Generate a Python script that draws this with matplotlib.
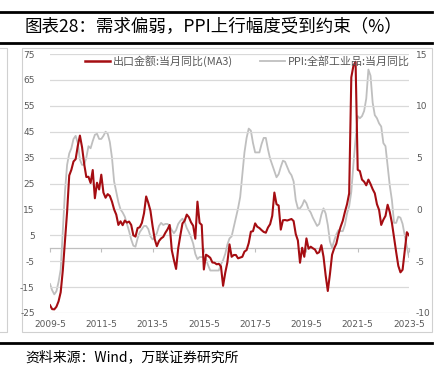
import matplotlib
matplotlib.use("Agg")
import matplotlib.pyplot as plt
from matplotlib.lines import Line2D
import matplotlib.transforms as mtransforms

plt.rcParams['font.family'] = ['Noto Sans CJK SC', 'DejaVu Sans']
plt.rcParams['axes.unicode_minus'] = False

# Monthly series, 2009-05 .. 2023-05
start_year, start_month = 2009, 5
export_ma3 = [
    -22.0, -23.5, -23.6, -22.6, -20.5, -17.0, -8.5, 2.5,                          # 2009 May-Dec
    14.0, 28.1, 30.3, 33.5, 34.4, 39.5, 43.5, 39.0, 32.5, 27.5, 27.6, 25.2,       # 2010
    30.2, 19.3, 25.3, 22.7, 28.4, 21.5, 19.5, 20.9, 20.2, 18.0, 15.0, 13.0,       # 2011
    9.0, 10.4, 8.9, 10.7, 9.9, 10.3, 9.0, 5.0, 4.5, 7.8, 8.1, 9.8,                # 2012
    13.5, 20.0, 17.5, 14.5, 8.6, 3.5, 0.8, 2.8, 3.8, 4.4, 6.0, 7.3,               # 2013
    9.0, -0.8, -4.6, -8.0, 0.0, 5.0, 9.6, 10.6, 13.0, 12.0, 10.0, 8.7,            # 2014
    3.7, 18.0, 9.8, 9.0, -8.2, -2.5, -3.0, -3.7, -5.5, -5.6, -6.2, -6.0,          # 2015
    -7.0, -14.5, -9.5, -5.5, 1.5, -3.3, -2.6, -2.6, -3.9, -3.6, -3.3, -1.3,       # 2016
    -0.7, 2.0, 6.4, 6.6, 9.6, 8.3, 7.8, 7.0, 6.3, 6.0, 8.0, 9.3,                  # 2017
    12.5, 21.5, 17.0, 16.5, 7.2, 10.8, 10.9, 10.7, 11.0, 11.3, 10.5, 5.5,         # 2018
    3.0, -5.6, 0.2, -3.3, 3.8, -0.2, 0.6, 0.0, -0.5, -2.0, -1.5, 1.2,             # 2019
    -3.3, -10.5, -16.5, -10.0, -2.5, 0.0, 1.8, 5.5, 8.3, 10.6, 14.0, 17.0,        # 2020
    21.2, 66.0, 70.5, 72.0, 30.3, 29.8, 26.5, 25.7, 24.3, 26.5, 24.8, 22.8,       # 2021
    21.2, 17.0, 14.8, 9.0, 11.0, 12.5, 16.8, 14.0, 9.8, 4.0, -1.5, -6.8,          # 2022
    -9.3, -8.3, -1.0, 6.2, 5.0,                                                   # 2023 Jan-May
]
ppi_yoy = [
    -7.2, -7.8, -8.2, -7.9, -7.0, -5.8, -2.1, 1.7,                                # 2009 May-Dec
    4.3, 5.4, 5.9, 6.8, 7.1, 6.4, 4.8, 4.3, 4.3, 5.0, 6.1, 5.9,                   # 2010
    6.6, 7.2, 7.3, 6.8, 6.8, 7.1, 7.5, 7.3, 6.5, 5.0, 2.7, 1.7,                   # 2011
    0.7, 0.0, -0.3, -0.7, -1.4, -2.1, -2.9, -3.5, -3.6, -2.8, -2.2, -1.9,         # 2012
    -1.6, -1.6, -1.9, -2.6, -2.9, -2.7, -2.3, -1.6, -1.3, -1.5, -1.4, -1.4,       # 2013
    -1.6, -2.0, -2.3, -2.0, -1.4, -1.1, -0.9, -1.2, -1.8, -2.2, -2.7, -3.3,       # 2014
    -4.3, -4.8, -4.6, -4.6, -4.6, -4.8, -5.4, -5.9, -5.9, -5.9, -5.9, -5.9,       # 2015
    -5.3, -4.9, -4.3, -3.4, -2.8, -2.6, -1.7, -0.8, 0.1, 1.2, 3.3, 5.5,           # 2016
    6.9, 7.8, 7.6, 6.4, 5.5, 5.5, 5.5, 6.3, 6.9, 6.9, 5.8, 4.9,                   # 2017
    4.3, 3.7, 3.1, 3.4, 4.1, 4.7, 4.6, 4.1, 3.6, 3.3, 2.7, 0.9,                   # 2018
    0.1, 0.1, 0.4, 0.9, 0.6, 0.0, -0.3, -0.8, -1.2, -1.6, -1.4, -0.5,             # 2019
    0.1, -0.4, -1.5, -3.1, -3.7, -3.0, -2.4, -2.0, -2.1, -2.1, -1.5, -0.4,        # 2020
    0.3, 1.7, 4.4, 6.8, 9.0, 8.8, 9.0, 9.5, 10.7, 13.5, 12.9, 10.3,               # 2021
    9.1, 8.8, 8.3, 8.0, 6.4, 6.1, 4.2, 2.3, 0.9, -1.3, -1.3, -0.7,                # 2022
    -0.8, -1.4, -2.5, -3.6, -4.6,                                                 # 2023 Jan-May
]
x_tick_labels = ["2009-5", "2011-5", "2013-5", "2015-5", "2017-5", "2019-5", "2021-5", "2023-5"]
left_ticks = [75, 65, 55, 45, 35, 25, 15, 5, -5, -15, -25]
right_ticks = [15, 10, 5, 0, -5, -10]
legend_labels = ["出口金额:当月同比(MA3)", "PPI:全部工业品:当月同比"]
title = "图表28：需求偏弱，PPI上行幅度受到约束（%）"
source = "资料来源：Wind，万联证券研究所"

months = list(range(len(export_ma3)))
x_tick_pos = [i * 24 for i in range(len(x_tick_labels))]

RED = "#a50d12"
GRAY = "#bfbfbf"
TXT = "#595959"

W, H = 443, 371
fig = plt.figure(figsize=(W / 100, H / 100), dpi=100)

def fx(px):
    return px / W

def fy(py):
    return 1 - py / H

# frame decorations
fig.add_artist(Line2D([fx(0), fx(432)], [fy(12), fy(12)], color="black", lw=2.0))
fig.add_artist(Line2D([fx(0), fx(432)], [fy(43), fy(43)], color="black", lw=2.0))
fig.add_artist(Line2D([fx(0), fx(432)], [fy(343), fy(343)], color="black", lw=2.0))
box = plt.Rectangle((fx(22), fy(332)), fx(432) - fx(22), fy(48) - fy(332),
                    transform=fig.transFigure, fill=False, ec="#d0d0d0", lw=0.8)
fig.add_artist(box)
fig.add_artist(Line2D([fx(0), fx(7), fx(7), fx(0)], [fy(48), fy(48), fy(332), fy(332)],
                      color="#d0d0d0", lw=0.8))

fig.text(fx(25), fy(27), title, fontsize=12.6, color="black", va="center", ha="left")
fig.text(fx(25), fy(357), source, fontsize=10, color="black", va="center", ha="left",
         style="italic")

ax = fig.add_axes([fx(50), fy(313), fx(409) - fx(50), fy(54) - fy(313)])
ax2 = ax.twinx()

ax.set_xlim(months[0], months[-1])
ax.set_ylim(-25, 75)
ax2.set_ylim(-10, 15)

for v in left_ticks:
    ax.axhline(v, color="#d9d9d9", lw=0.9, zorder=0)

ax.plot(months, export_ma3, color=RED, lw=1.5, zorder=3)
ax2.plot(months, ppi_yoy, color=GRAY, lw=1.3, zorder=2)
ax.set_zorder(ax2.get_zorder() + 1)
ax.patch.set_visible(False)

for a in (ax, ax2):
    for s in a.spines.values():
        s.set_visible(False)

ax.spines["bottom"].set_visible(True)
ax.spines["bottom"].set_position(("data", 0))
ax.spines["bottom"].set_color("#bfbfbf")
ax.spines["bottom"].set_linewidth(0.9)
ax.set_xticks(x_tick_pos)
ax.tick_params(axis="x", direction="out", length=3, color="#bfbfbf", labelbottom=False)
trans = mtransforms.blended_transform_factory(ax.transData, ax.transAxes)
for p, lab in zip(x_tick_pos, x_tick_labels):
    ax.text(p, -0.045, lab, transform=trans, ha="center", va="center",
            fontsize=6.5, color=TXT, family="DejaVu Sans")

ax.set_yticks(left_ticks)
ax.set_yticklabels([str(v) for v in left_ticks])
ax.tick_params(axis="y", length=0, pad=11, labelsize=6.5, labelcolor=TXT)
ax2.set_yticks(right_ticks)
ax2.set_yticklabels([str(v) for v in right_ticks])
ax2.tick_params(axis="y", length=0, pad=5, labelsize=6.5, labelcolor=TXT)
for lab in ax.get_yticklabels() + ax2.get_yticklabels():
    lab.set_family("DejaVu Sans")

handles = [Line2D([], [], color=RED, lw=1.8), Line2D([], [], color=GRAY, lw=1.3)]
leg = ax.legend(handles, legend_labels, ncol=2, loc="upper center",
                bbox_to_anchor=(0.55, 1.035), frameon=False, fontsize=7.9,
                handlelength=2.3, handletextpad=0.3, columnspacing=2.4,
                labelcolor=TXT)

fig.savefig("out.png", dpi=100)
